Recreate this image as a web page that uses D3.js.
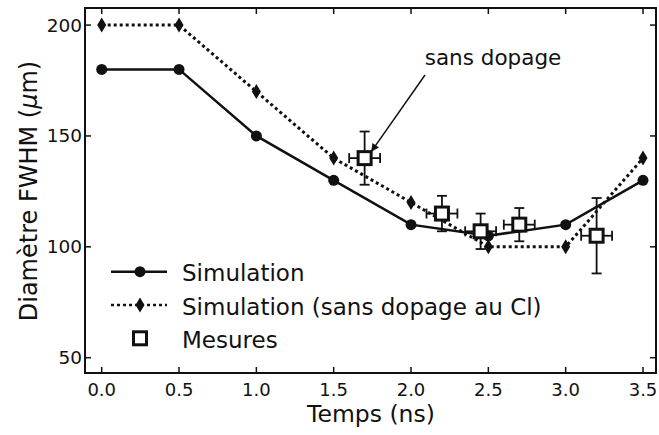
<!DOCTYPE html>
<html><head><meta charset="utf-8">
<script src="https://cdn.jsdelivr.net/npm/d3@7"></script>
<style>
body{margin:0;background:#fff;}
text{font-family:"DejaVu Sans",sans-serif;fill:#111;}
</style></head>
<body><svg id="c" width="659" height="435"></svg>
<script>
const times = [0, 0.5, 1.0, 1.5, 2.0, 2.5, 3.0, 3.5];
const simulation = [180, 180, 150, 130, 110, 105, 110, 130];
const simulationSansDopage = [200, 200, 170, 140, 120, 100, 100, 140];
const mesuresT = [1.7, 2.2, 2.45, 2.7, 3.2];
const mesuresD = [140, 115, 107, 110, 105];
const mesuresErrD = [12, 8, 8, 7.5, 17];
const mesuresErrT = [0.1, 0.1, 0.1, 0.1, 0.1];
const xTicks = [0, 0.5, 1.0, 1.5, 2.0, 2.5, 3.0, 3.5];
const yTicks = [50, 100, 150, 200];
const legendLabels = ["Simulation", "Simulation (sans dopage au Cl)", "Mesures"];

const svg = d3.select("#c");
const L = 85, R = 656, T = 8, B = 373;
const x = d3.scaleLinear().domain([-0.108, 3.584]).range([L, R]);
const y = d3.scaleLinear().domain([43.1, 207.7]).range([B, T]);

// ticks (inward, all sides)
const tk = 6;
const g = svg.append("g");
xTicks.forEach(t => {
  g.append("line").attr("x1", x(t)).attr("x2", x(t)).attr("y1", B).attr("y2", B - tk).attr("stroke", "#111").attr("stroke-width", 1.5);
  g.append("line").attr("x1", x(t)).attr("x2", x(t)).attr("y1", T).attr("y2", T + tk).attr("stroke", "#111").attr("stroke-width", 1.5);
  g.append("text").attr("x", x(t)).attr("y", 395.5).attr("text-anchor", "middle").attr("font-size", 18).text(d3.format(".1f")(t));
});
yTicks.forEach(t => {
  g.append("line").attr("x1", L).attr("x2", L + tk).attr("y1", y(t)).attr("y2", y(t)).attr("stroke", "#111").attr("stroke-width", 1.5);
  g.append("line").attr("x1", R).attr("x2", R - tk).attr("y1", y(t)).attr("y2", y(t)).attr("stroke", "#111").attr("stroke-width", 1.5);
  g.append("text").attr("x", L - 3).attr("y", y(t) + 6.5).attr("text-anchor", "end").attr("font-size", 18.5).text(t);
});
svg.append("rect").attr("x", L).attr("y", T).attr("width", R - L).attr("height", B - T).attr("fill", "none").attr("stroke", "#111").attr("stroke-width", 2);

// axis labels
svg.append("text").attr("x", 371).attr("y", 421.5).attr("text-anchor", "middle").attr("font-size", 23.5).text("Temps (ns)");
const yl = svg.append("text").attr("transform", `translate(37,191) rotate(-90)`).attr("text-anchor", "middle").attr("font-size", 24);
yl.append("tspan").text("Diamètre FWHM (");
yl.append("tspan").attr("font-style", "italic").text("μ");
yl.append("tspan").text("m)");

const line = d3.line();
// dotted series
svg.append("path").attr("d", line(times.map((t, i) => [x(t), y(simulationSansDopage[i])])))
  .attr("fill", "none").attr("stroke", "#111").attr("stroke-width", 3).attr("stroke-dasharray", "3,3");
// solid series
svg.append("path").attr("d", line(times.map((t, i) => [x(t), y(simulation[i])])))
  .attr("fill", "none").attr("stroke", "#111").attr("stroke-width", 2.5);

const diamond = (cx, cy) => `M${cx},${cy - 7.5}L${cx + 4.5},${cy}L${cx},${cy + 7.5}L${cx - 4.5},${cy}Z`;
times.forEach((t, i) => {
  svg.append("path").attr("d", diamond(x(t), y(simulationSansDopage[i]))).attr("fill", "#111");
});
times.forEach((t, i) => {
  svg.append("circle").attr("cx", x(t)).attr("cy", y(simulation[i])).attr("r", 5.5).attr("fill", "#111");
});

// measures with error bars
const cap = 5;
mesuresT.forEach((t, i) => {
  const cx = x(t), cy = y(mesuresD[i]);
  const y1 = y(mesuresD[i] + mesuresErrD[i]), y2 = y(mesuresD[i] - mesuresErrD[i]);
  const x1 = x(t - mesuresErrT[i]), x2 = x(t + mesuresErrT[i]);
  const eg = svg.append("g").attr("stroke", "#111").attr("stroke-width", 1.8);
  eg.append("line").attr("x1", cx).attr("x2", cx).attr("y1", y1).attr("y2", y2);
  eg.append("line").attr("x1", cx - cap).attr("x2", cx + cap).attr("y1", y1).attr("y2", y1);
  eg.append("line").attr("x1", cx - cap).attr("x2", cx + cap).attr("y1", y2).attr("y2", y2);
  eg.append("line").attr("x1", x1).attr("x2", x2).attr("y1", cy).attr("y2", cy);
  eg.append("line").attr("x1", x1).attr("x2", x1).attr("y1", cy - cap).attr("y2", cy + cap);
  eg.append("line").attr("x1", x2).attr("x2", x2).attr("y1", cy - cap).attr("y2", cy + cap);
  svg.append("rect").attr("x", cx - 6.5).attr("y", cy - 6.5).attr("width", 13).attr("height", 13)
    .attr("fill", "#fff").attr("stroke", "#111").attr("stroke-width", 3);
});

// annotation
const defs = svg.append("defs");
defs.append("marker").attr("id", "ah").attr("viewBox", "0 0 10 10").attr("refX", 9).attr("refY", 5)
  .attr("markerWidth", 10).attr("markerHeight", 8).attr("markerUnits", "userSpaceOnUse").attr("orient", "auto")
  .append("path").attr("d", "M0,0L10,5L0,10Z").attr("fill", "#111");
svg.append("line").attr("x1", 425).attr("y1", 75).attr("x2", x(mesuresT[0]) + 7).attr("y2", y(mesuresD[0]) - 7)
  .attr("stroke", "#111").attr("stroke-width", 1.5).attr("marker-end", "url(#ah)");
svg.append("text").attr("x", 493).attr("y", 65).attr("text-anchor", "middle").attr("font-size", 21.5).text("sans dopage");

// legend
const lg = svg.append("g");
const rows = [271.7, 305, 338.3];
lg.append("line").attr("x1", 111).attr("x2", 167).attr("y1", rows[0]).attr("y2", rows[0]).attr("stroke", "#111").attr("stroke-width", 2.5);
lg.append("circle").attr("cx", 140).attr("cy", rows[0]).attr("r", 5.5).attr("fill", "#111");
lg.append("line").attr("x1", 111).attr("x2", 167).attr("y1", rows[1]).attr("y2", rows[1]).attr("stroke", "#111").attr("stroke-width", 2.5).attr("stroke-dasharray", "3,3");
lg.append("path").attr("d", diamond(140, rows[1])).attr("fill", "#111");
lg.append("rect").attr("x", 133.5).attr("y", rows[2] - 6.5).attr("width", 13).attr("height", 13).attr("fill", "#fff").attr("stroke", "#111").attr("stroke-width", 3);
legendLabels.forEach((s, i) => {
  lg.append("text").attr("x", 182).attr("y", rows[i] + 9.5).attr("font-size", 23).text(s);
});
</script></body></html>
